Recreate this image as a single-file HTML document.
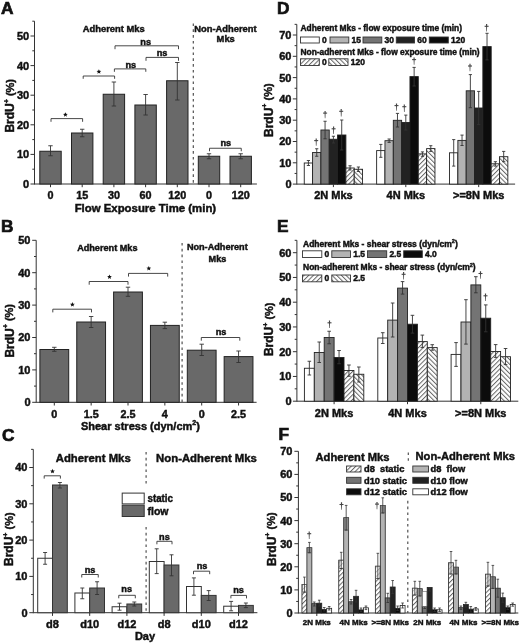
<!DOCTYPE html>
<html><head><meta charset="utf-8"><style>
html,body{margin:0;padding:0;background:#fff;}
svg{display:block;filter:grayscale(1) blur(0.35px);}
text{font-family:"Liberation Sans",sans-serif;font-weight:bold;stroke:#111;stroke-width:0.45px;}
</style></head><body>
<svg width="520" height="644" viewBox="0 0 520 644">
<defs>
<pattern id="h1" patternUnits="userSpaceOnUse" width="3.3" height="10" patternTransform="rotate(45)"><rect width="3.3" height="10" fill="#fff"/><rect x="0" width="1.0" height="10" fill="#666"/></pattern>
<pattern id="h2" patternUnits="userSpaceOnUse" width="3.3" height="10" patternTransform="rotate(-45)"><rect width="3.3" height="10" fill="#fff"/><rect x="0" width="1.0" height="10" fill="#666"/></pattern>
</defs>
<rect width="520" height="644" fill="#fff"/>
<text x="1.00" y="13.73" font-size="17.3" text-anchor="start" fill="#111" style="stroke-width:0.7px">A</text>
<line x1="34.50" y1="21.20" x2="34.50" y2="184.50" stroke="#333" stroke-width="1" />
<line x1="30.50" y1="184.00" x2="34.50" y2="184.00" stroke="#333" stroke-width="1" />
<text x="29.20" y="187.96" font-size="11" text-anchor="end" fill="#111" >0</text>
<line x1="32.30" y1="169.20" x2="34.50" y2="169.20" stroke="#333" stroke-width="1" />
<line x1="30.50" y1="154.40" x2="34.50" y2="154.40" stroke="#333" stroke-width="1" />
<text x="29.20" y="158.36" font-size="11" text-anchor="end" fill="#111" >10</text>
<line x1="32.30" y1="139.60" x2="34.50" y2="139.60" stroke="#333" stroke-width="1" />
<line x1="30.50" y1="124.80" x2="34.50" y2="124.80" stroke="#333" stroke-width="1" />
<text x="29.20" y="128.76" font-size="11" text-anchor="end" fill="#111" >20</text>
<line x1="32.30" y1="110.00" x2="34.50" y2="110.00" stroke="#333" stroke-width="1" />
<line x1="30.50" y1="95.20" x2="34.50" y2="95.20" stroke="#333" stroke-width="1" />
<text x="29.20" y="99.16" font-size="11" text-anchor="end" fill="#111" >30</text>
<line x1="32.30" y1="80.40" x2="34.50" y2="80.40" stroke="#333" stroke-width="1" />
<line x1="30.50" y1="65.60" x2="34.50" y2="65.60" stroke="#333" stroke-width="1" />
<text x="29.20" y="69.56" font-size="11" text-anchor="end" fill="#111" >40</text>
<line x1="32.30" y1="50.80" x2="34.50" y2="50.80" stroke="#333" stroke-width="1" />
<line x1="30.50" y1="36.00" x2="34.50" y2="36.00" stroke="#333" stroke-width="1" />
<text x="29.20" y="39.96" font-size="11" text-anchor="end" fill="#111" >50</text>
<line x1="32.30" y1="21.20" x2="34.50" y2="21.20" stroke="#333" stroke-width="1" />
<line x1="34.50" y1="184.00" x2="256.90" y2="184.00" stroke="#333" stroke-width="1" />
<rect x="39.80" y="151.25" width="21.40" height="32.75" fill="#696969" stroke="#222" stroke-width="1"/>
<line x1="50.50" y1="145.75" x2="50.50" y2="155.75" stroke="#333" stroke-width="0.9" />
<line x1="48.30" y1="145.75" x2="52.70" y2="145.75" stroke="#333" stroke-width="0.9" />
<line x1="48.30" y1="155.75" x2="52.70" y2="155.75" stroke="#333" stroke-width="0.9" />
<line x1="50.50" y1="184.00" x2="50.50" y2="187.20" stroke="#333" stroke-width="1" />
<rect x="71.50" y="133.00" width="21.40" height="51.00" fill="#696969" stroke="#222" stroke-width="1"/>
<line x1="82.20" y1="129.25" x2="82.20" y2="136.75" stroke="#333" stroke-width="0.9" />
<line x1="80.00" y1="129.25" x2="84.40" y2="129.25" stroke="#333" stroke-width="0.9" />
<line x1="80.00" y1="136.75" x2="84.40" y2="136.75" stroke="#333" stroke-width="0.9" />
<line x1="82.20" y1="184.00" x2="82.20" y2="187.20" stroke="#333" stroke-width="1" />
<rect x="103.20" y="94.25" width="21.40" height="89.75" fill="#696969" stroke="#222" stroke-width="1"/>
<line x1="113.90" y1="82.00" x2="113.90" y2="106.00" stroke="#333" stroke-width="0.9" />
<line x1="111.70" y1="82.00" x2="116.10" y2="82.00" stroke="#333" stroke-width="0.9" />
<line x1="111.70" y1="106.00" x2="116.10" y2="106.00" stroke="#333" stroke-width="0.9" />
<line x1="113.90" y1="184.00" x2="113.90" y2="187.20" stroke="#333" stroke-width="1" />
<rect x="134.90" y="105.00" width="21.40" height="79.00" fill="#696969" stroke="#222" stroke-width="1"/>
<line x1="145.60" y1="94.50" x2="145.60" y2="115.00" stroke="#333" stroke-width="0.9" />
<line x1="143.40" y1="94.50" x2="147.80" y2="94.50" stroke="#333" stroke-width="0.9" />
<line x1="143.40" y1="115.00" x2="147.80" y2="115.00" stroke="#333" stroke-width="0.9" />
<line x1="145.60" y1="184.00" x2="145.60" y2="187.20" stroke="#333" stroke-width="1" />
<rect x="166.60" y="80.75" width="21.40" height="103.25" fill="#696969" stroke="#222" stroke-width="1"/>
<line x1="177.30" y1="62.50" x2="177.30" y2="100.00" stroke="#333" stroke-width="0.9" />
<line x1="175.10" y1="62.50" x2="179.50" y2="62.50" stroke="#333" stroke-width="0.9" />
<line x1="175.10" y1="100.00" x2="179.50" y2="100.00" stroke="#333" stroke-width="0.9" />
<line x1="177.30" y1="184.00" x2="177.30" y2="187.20" stroke="#333" stroke-width="1" />
<rect x="198.30" y="156.25" width="21.40" height="27.75" fill="#696969" stroke="#222" stroke-width="1"/>
<line x1="209.00" y1="153.75" x2="209.00" y2="158.75" stroke="#333" stroke-width="0.9" />
<line x1="206.80" y1="153.75" x2="211.20" y2="153.75" stroke="#333" stroke-width="0.9" />
<line x1="206.80" y1="158.75" x2="211.20" y2="158.75" stroke="#333" stroke-width="0.9" />
<line x1="209.00" y1="184.00" x2="209.00" y2="187.20" stroke="#333" stroke-width="1" />
<rect x="230.00" y="156.25" width="21.40" height="27.75" fill="#696969" stroke="#222" stroke-width="1"/>
<line x1="240.70" y1="153.75" x2="240.70" y2="158.75" stroke="#333" stroke-width="0.9" />
<line x1="238.50" y1="153.75" x2="242.90" y2="153.75" stroke="#333" stroke-width="0.9" />
<line x1="238.50" y1="158.75" x2="242.90" y2="158.75" stroke="#333" stroke-width="0.9" />
<line x1="240.70" y1="184.00" x2="240.70" y2="187.20" stroke="#333" stroke-width="1" />
<text x="50.50" y="199.19" font-size="10.8" text-anchor="middle" fill="#111" >0</text>
<text x="82.20" y="199.19" font-size="10.8" text-anchor="middle" fill="#111" >15</text>
<text x="113.90" y="199.19" font-size="10.8" text-anchor="middle" fill="#111" >30</text>
<text x="145.60" y="199.19" font-size="10.8" text-anchor="middle" fill="#111" >60</text>
<text x="177.30" y="199.19" font-size="10.8" text-anchor="middle" fill="#111" >120</text>
<text x="209.00" y="199.19" font-size="10.8" text-anchor="middle" fill="#111" >0</text>
<text x="240.70" y="199.19" font-size="10.8" text-anchor="middle" fill="#111" >120</text>
<text x="145.40" y="211.76" font-size="11" text-anchor="middle" textLength="141.50" lengthAdjust="spacingAndGlyphs" fill="#111" >Flow Exposure Time (min)</text>
<line x1="193.30" y1="23.50" x2="193.30" y2="184.00" stroke="#4a4a4a" stroke-width="1.15" stroke-dasharray="2.6,3.2"/>
<text x="113.70" y="31.98" font-size="9.4" text-anchor="middle" fill="#111" >Adherent Mks</text>
<text x="225.40" y="31.87" font-size="9.35" text-anchor="middle" fill="#111" >Non-Adherent</text>
<text x="225.70" y="42.37" font-size="9.35" text-anchor="middle" fill="#111" >Mks</text>
<text transform="translate(14.30,132.60) rotate(-90)" x="0" y="0" font-size="12" text-anchor="start" fill="#111">BrdU<tspan font-size="7" dy="-5.6">+</tspan><tspan font-size="11" dy="4.9"> (%)</tspan></text>
<path d="M51.00,121.80 L51.00,118.60 L82.60,118.60 L82.60,121.80" stroke="#333" stroke-width="0.9" fill="none" />
<polygon points="65.40,112.20 66.06,113.79 67.78,113.93 66.47,115.05 66.87,116.72 65.40,115.83 63.93,116.72 64.33,115.05 63.02,113.93 64.74,113.79" fill="#111"/>
<path d="M83.20,78.80 L83.20,76.00 L114.60,76.00 L114.60,78.80" stroke="#333" stroke-width="0.9" fill="none" />
<polygon points="98.90,69.20 99.56,70.79 101.28,70.93 99.97,72.05 100.37,73.72 98.90,72.83 97.43,73.72 97.83,72.05 96.52,70.93 98.24,70.79" fill="#111"/>
<path d="M114.40,71.80 L114.40,68.90 L145.80,68.90 L145.80,71.80" stroke="#333" stroke-width="0.9" fill="none" />
<text x="130.80" y="67.59" font-size="9.2" text-anchor="middle" fill="#111" >ns</text>
<path d="M115.00,49.20 L115.00,45.80 L178.50,45.80 L178.50,49.20" stroke="#333" stroke-width="0.9" fill="none" />
<text x="145.70" y="44.69" font-size="9.2" text-anchor="middle" fill="#111" >ns</text>
<path d="M146.00,60.80 L146.00,57.40 L178.50,57.40 L178.50,60.80" stroke="#333" stroke-width="0.9" fill="none" />
<text x="162.10" y="56.29" font-size="9.2" text-anchor="middle" fill="#111" >ns</text>
<path d="M209.50,151.25 L209.50,148.25 L241.25,148.25 L241.25,151.25" stroke="#333" stroke-width="0.9" fill="none" />
<text x="225.75" y="145.59" font-size="9.2" text-anchor="middle" fill="#111" >ns</text>
<text x="0.90" y="232.33" font-size="17.3" text-anchor="start" fill="#111" style="stroke-width:0.7px">B</text>
<line x1="36.20" y1="240.30" x2="36.20" y2="402.80" stroke="#333" stroke-width="1" />
<line x1="32.20" y1="402.30" x2="36.20" y2="402.30" stroke="#333" stroke-width="1" />
<text x="30.50" y="406.26" font-size="11" text-anchor="end" fill="#111" >0</text>
<line x1="34.00" y1="386.10" x2="36.20" y2="386.10" stroke="#333" stroke-width="1" />
<line x1="32.20" y1="369.90" x2="36.20" y2="369.90" stroke="#333" stroke-width="1" />
<text x="30.50" y="373.86" font-size="11" text-anchor="end" fill="#111" >10</text>
<line x1="34.00" y1="353.70" x2="36.20" y2="353.70" stroke="#333" stroke-width="1" />
<line x1="32.20" y1="337.50" x2="36.20" y2="337.50" stroke="#333" stroke-width="1" />
<text x="30.50" y="341.46" font-size="11" text-anchor="end" fill="#111" >20</text>
<line x1="34.00" y1="321.30" x2="36.20" y2="321.30" stroke="#333" stroke-width="1" />
<line x1="32.20" y1="305.10" x2="36.20" y2="305.10" stroke="#333" stroke-width="1" />
<text x="30.50" y="309.06" font-size="11" text-anchor="end" fill="#111" >30</text>
<line x1="34.00" y1="288.90" x2="36.20" y2="288.90" stroke="#333" stroke-width="1" />
<line x1="32.20" y1="272.70" x2="36.20" y2="272.70" stroke="#333" stroke-width="1" />
<text x="30.50" y="276.66" font-size="11" text-anchor="end" fill="#111" >40</text>
<line x1="34.00" y1="256.50" x2="36.20" y2="256.50" stroke="#333" stroke-width="1" />
<line x1="32.20" y1="240.30" x2="36.20" y2="240.30" stroke="#333" stroke-width="1" />
<text x="30.50" y="244.26" font-size="11" text-anchor="end" fill="#111" >50</text>
<line x1="36.20" y1="402.30" x2="256.60" y2="402.30" stroke="#333" stroke-width="1" />
<rect x="39.90" y="349.50" width="28.80" height="52.80" fill="#696969" stroke="#222" stroke-width="1"/>
<line x1="54.30" y1="347.30" x2="54.30" y2="351.30" stroke="#333" stroke-width="0.9" />
<line x1="52.10" y1="347.30" x2="56.50" y2="347.30" stroke="#333" stroke-width="0.9" />
<line x1="52.10" y1="351.30" x2="56.50" y2="351.30" stroke="#333" stroke-width="0.9" />
<line x1="54.30" y1="402.30" x2="54.30" y2="405.50" stroke="#333" stroke-width="1" />
<rect x="76.75" y="322.00" width="28.80" height="80.30" fill="#696969" stroke="#222" stroke-width="1"/>
<line x1="91.15" y1="316.50" x2="91.15" y2="327.50" stroke="#333" stroke-width="0.9" />
<line x1="88.95" y1="316.50" x2="93.35" y2="316.50" stroke="#333" stroke-width="0.9" />
<line x1="88.95" y1="327.50" x2="93.35" y2="327.50" stroke="#333" stroke-width="0.9" />
<line x1="91.15" y1="402.30" x2="91.15" y2="405.50" stroke="#333" stroke-width="1" />
<rect x="113.60" y="292.00" width="28.80" height="110.30" fill="#696969" stroke="#222" stroke-width="1"/>
<line x1="128.00" y1="287.20" x2="128.00" y2="296.30" stroke="#333" stroke-width="0.9" />
<line x1="125.80" y1="287.20" x2="130.20" y2="287.20" stroke="#333" stroke-width="0.9" />
<line x1="125.80" y1="296.30" x2="130.20" y2="296.30" stroke="#333" stroke-width="0.9" />
<line x1="128.00" y1="402.30" x2="128.00" y2="405.50" stroke="#333" stroke-width="1" />
<rect x="150.45" y="325.40" width="28.80" height="76.90" fill="#696969" stroke="#222" stroke-width="1"/>
<line x1="164.85" y1="322.20" x2="164.85" y2="328.60" stroke="#333" stroke-width="0.9" />
<line x1="162.65" y1="322.20" x2="167.05" y2="322.20" stroke="#333" stroke-width="0.9" />
<line x1="162.65" y1="328.60" x2="167.05" y2="328.60" stroke="#333" stroke-width="0.9" />
<line x1="164.85" y1="402.30" x2="164.85" y2="405.50" stroke="#333" stroke-width="1" />
<rect x="187.30" y="350.20" width="28.80" height="52.10" fill="#696969" stroke="#222" stroke-width="1"/>
<line x1="201.70" y1="344.20" x2="201.70" y2="355.50" stroke="#333" stroke-width="0.9" />
<line x1="199.50" y1="344.20" x2="203.90" y2="344.20" stroke="#333" stroke-width="0.9" />
<line x1="199.50" y1="355.50" x2="203.90" y2="355.50" stroke="#333" stroke-width="0.9" />
<line x1="201.70" y1="402.30" x2="201.70" y2="405.50" stroke="#333" stroke-width="1" />
<rect x="224.15" y="356.60" width="28.80" height="45.70" fill="#696969" stroke="#222" stroke-width="1"/>
<line x1="238.55" y1="351.00" x2="238.55" y2="362.50" stroke="#333" stroke-width="0.9" />
<line x1="236.35" y1="351.00" x2="240.75" y2="351.00" stroke="#333" stroke-width="0.9" />
<line x1="236.35" y1="362.50" x2="240.75" y2="362.50" stroke="#333" stroke-width="0.9" />
<line x1="238.55" y1="402.30" x2="238.55" y2="405.50" stroke="#333" stroke-width="1" />
<text x="54.30" y="417.89" font-size="10.8" text-anchor="middle" fill="#111" >0</text>
<text x="91.15" y="417.89" font-size="10.8" text-anchor="middle" fill="#111" >1.5</text>
<text x="128.00" y="417.89" font-size="10.8" text-anchor="middle" fill="#111" >2.5</text>
<text x="164.85" y="417.89" font-size="10.8" text-anchor="middle" fill="#111" >4</text>
<text x="201.70" y="417.89" font-size="10.8" text-anchor="middle" fill="#111" >0</text>
<text x="238.55" y="417.89" font-size="10.8" text-anchor="middle" fill="#111" >2.5</text>
<text x="80.90" y="429.56" font-size="11" text-anchor="start" textLength="119.00" lengthAdjust="spacingAndGlyphs" fill="#111" >Shear stress (dyn/cm<tspan font-size="7" dy="-4.6">2</tspan><tspan dy="4.6">)</tspan></text>
<line x1="182.10" y1="243.00" x2="182.10" y2="402.00" stroke="#4a4a4a" stroke-width="1.15" stroke-dasharray="2.6,3.2"/>
<text x="107.30" y="250.59" font-size="9.15" text-anchor="middle" fill="#111" >Adherent Mks</text>
<text x="217.30" y="250.39" font-size="9.15" text-anchor="middle" fill="#111" >Non-Adherent</text>
<text x="217.50" y="262.19" font-size="9.15" text-anchor="middle" fill="#111" >Mks</text>
<text transform="translate(13.60,357.60) rotate(-90)" x="0" y="0" font-size="12" text-anchor="start" fill="#111">BrdU<tspan font-size="7" dy="-5.6">+</tspan><tspan font-size="11" dy="4.9"> (%)</tspan></text>
<path d="M52.80,312.40 L52.80,309.20 L91.50,309.20 L91.50,312.40" stroke="#333" stroke-width="0.9" fill="none" />
<polygon points="72.40,302.10 73.06,303.69 74.78,303.83 73.47,304.95 73.87,306.62 72.40,305.73 70.93,306.62 71.33,304.95 70.02,303.83 71.74,303.69" fill="#111"/>
<path d="M89.20,284.70 L89.20,281.50 L128.00,281.50 L128.00,284.70" stroke="#333" stroke-width="0.9" fill="none" />
<polygon points="109.50,274.40 110.16,275.99 111.88,276.13 110.57,277.25 110.97,278.92 109.50,278.03 108.03,278.92 108.43,277.25 107.12,276.13 108.84,275.99" fill="#111"/>
<path d="M128.50,276.60 L128.50,273.40 L167.70,273.40 L167.70,276.60" stroke="#333" stroke-width="0.9" fill="none" />
<polygon points="148.80,265.90 149.46,267.49 151.18,267.63 149.87,268.75 150.27,270.42 148.80,269.53 147.33,270.42 147.73,268.75 146.42,267.63 148.14,267.49" fill="#111"/>
<path d="M201.30,340.70 L201.30,337.50 L239.80,337.50 L239.80,340.70" stroke="#333" stroke-width="0.9" fill="none" />
<text x="221.00" y="335.19" font-size="9.2" text-anchor="middle" fill="#111" >ns</text>
<text x="2.00" y="440.63" font-size="17.3" text-anchor="start" fill="#111" style="stroke-width:0.7px">C</text>
<line x1="33.30" y1="449.35" x2="33.30" y2="613.20" stroke="#333" stroke-width="1" />
<line x1="29.30" y1="612.70" x2="33.30" y2="612.70" stroke="#333" stroke-width="1" />
<text x="27.50" y="616.66" font-size="11" text-anchor="end" fill="#111" >0</text>
<line x1="31.10" y1="594.55" x2="33.30" y2="594.55" stroke="#333" stroke-width="1" />
<line x1="29.30" y1="576.40" x2="33.30" y2="576.40" stroke="#333" stroke-width="1" />
<text x="27.50" y="580.36" font-size="11" text-anchor="end" fill="#111" >10</text>
<line x1="31.10" y1="558.25" x2="33.30" y2="558.25" stroke="#333" stroke-width="1" />
<line x1="29.30" y1="540.10" x2="33.30" y2="540.10" stroke="#333" stroke-width="1" />
<text x="27.50" y="544.06" font-size="11" text-anchor="end" fill="#111" >20</text>
<line x1="31.10" y1="521.95" x2="33.30" y2="521.95" stroke="#333" stroke-width="1" />
<line x1="29.30" y1="503.80" x2="33.30" y2="503.80" stroke="#333" stroke-width="1" />
<text x="27.50" y="507.76" font-size="11" text-anchor="end" fill="#111" >30</text>
<line x1="31.10" y1="485.65" x2="33.30" y2="485.65" stroke="#333" stroke-width="1" />
<line x1="29.30" y1="467.50" x2="33.30" y2="467.50" stroke="#333" stroke-width="1" />
<text x="27.50" y="471.46" font-size="11" text-anchor="end" fill="#111" >40</text>
<line x1="31.10" y1="449.35" x2="33.30" y2="449.35" stroke="#333" stroke-width="1" />
<line x1="33.30" y1="612.70" x2="257.40" y2="612.70" stroke="#333" stroke-width="1" />
<rect x="37.70" y="558.25" width="14.80" height="54.45" fill="#ffffff" stroke="#333" stroke-width="1"/>
<rect x="52.50" y="485.00" width="14.80" height="127.70" fill="#696969" stroke="#333" stroke-width="1"/>
<line x1="45.10" y1="552.50" x2="45.10" y2="564.25" stroke="#333" stroke-width="0.9" />
<line x1="43.10" y1="552.50" x2="47.10" y2="552.50" stroke="#333" stroke-width="0.9" />
<line x1="43.10" y1="564.25" x2="47.10" y2="564.25" stroke="#333" stroke-width="0.9" />
<line x1="59.90" y1="482.50" x2="59.90" y2="488.00" stroke="#333" stroke-width="0.9" />
<line x1="57.90" y1="482.50" x2="61.90" y2="482.50" stroke="#333" stroke-width="0.9" />
<line x1="57.90" y1="488.00" x2="61.90" y2="488.00" stroke="#333" stroke-width="0.9" />
<line x1="52.50" y1="612.70" x2="52.50" y2="615.90" stroke="#333" stroke-width="1" />
<rect x="74.90" y="593.00" width="14.80" height="19.70" fill="#ffffff" stroke="#333" stroke-width="1"/>
<rect x="89.70" y="588.00" width="14.80" height="24.70" fill="#696969" stroke="#333" stroke-width="1"/>
<line x1="82.30" y1="588.00" x2="82.30" y2="598.75" stroke="#333" stroke-width="0.9" />
<line x1="80.30" y1="588.00" x2="84.30" y2="588.00" stroke="#333" stroke-width="0.9" />
<line x1="80.30" y1="598.75" x2="84.30" y2="598.75" stroke="#333" stroke-width="0.9" />
<line x1="97.10" y1="581.75" x2="97.10" y2="594.50" stroke="#333" stroke-width="0.9" />
<line x1="95.10" y1="581.75" x2="99.10" y2="581.75" stroke="#333" stroke-width="0.9" />
<line x1="95.10" y1="594.50" x2="99.10" y2="594.50" stroke="#333" stroke-width="0.9" />
<line x1="89.70" y1="612.70" x2="89.70" y2="615.90" stroke="#333" stroke-width="1" />
<rect x="112.10" y="606.75" width="14.80" height="5.95" fill="#ffffff" stroke="#333" stroke-width="1"/>
<rect x="126.90" y="604.00" width="14.80" height="8.70" fill="#696969" stroke="#333" stroke-width="1"/>
<line x1="119.50" y1="603.20" x2="119.50" y2="610.20" stroke="#333" stroke-width="0.9" />
<line x1="117.50" y1="603.20" x2="121.50" y2="603.20" stroke="#333" stroke-width="0.9" />
<line x1="117.50" y1="610.20" x2="121.50" y2="610.20" stroke="#333" stroke-width="0.9" />
<line x1="134.30" y1="602.00" x2="134.30" y2="606.00" stroke="#333" stroke-width="0.9" />
<line x1="132.30" y1="602.00" x2="136.30" y2="602.00" stroke="#333" stroke-width="0.9" />
<line x1="132.30" y1="606.00" x2="136.30" y2="606.00" stroke="#333" stroke-width="0.9" />
<line x1="126.90" y1="612.70" x2="126.90" y2="615.90" stroke="#333" stroke-width="1" />
<rect x="149.30" y="561.50" width="14.80" height="51.20" fill="#ffffff" stroke="#333" stroke-width="1"/>
<rect x="164.10" y="565.00" width="14.80" height="47.70" fill="#696969" stroke="#333" stroke-width="1"/>
<line x1="156.70" y1="548.80" x2="156.70" y2="573.60" stroke="#333" stroke-width="0.9" />
<line x1="154.70" y1="548.80" x2="158.70" y2="548.80" stroke="#333" stroke-width="0.9" />
<line x1="154.70" y1="573.60" x2="158.70" y2="573.60" stroke="#333" stroke-width="0.9" />
<line x1="171.50" y1="554.80" x2="171.50" y2="575.80" stroke="#333" stroke-width="0.9" />
<line x1="169.50" y1="554.80" x2="173.50" y2="554.80" stroke="#333" stroke-width="0.9" />
<line x1="169.50" y1="575.80" x2="173.50" y2="575.80" stroke="#333" stroke-width="0.9" />
<line x1="164.10" y1="612.70" x2="164.10" y2="615.90" stroke="#333" stroke-width="1" />
<rect x="186.50" y="586.50" width="14.80" height="26.20" fill="#ffffff" stroke="#333" stroke-width="1"/>
<rect x="201.30" y="595.40" width="14.80" height="17.30" fill="#696969" stroke="#333" stroke-width="1"/>
<line x1="193.90" y1="577.90" x2="193.90" y2="595.20" stroke="#333" stroke-width="0.9" />
<line x1="191.90" y1="577.90" x2="195.90" y2="577.90" stroke="#333" stroke-width="0.9" />
<line x1="191.90" y1="595.20" x2="195.90" y2="595.20" stroke="#333" stroke-width="0.9" />
<line x1="208.70" y1="590.60" x2="208.70" y2="600.50" stroke="#333" stroke-width="0.9" />
<line x1="206.70" y1="590.60" x2="210.70" y2="590.60" stroke="#333" stroke-width="0.9" />
<line x1="206.70" y1="600.50" x2="210.70" y2="600.50" stroke="#333" stroke-width="0.9" />
<line x1="201.30" y1="612.70" x2="201.30" y2="615.90" stroke="#333" stroke-width="1" />
<rect x="223.70" y="606.20" width="14.80" height="6.50" fill="#ffffff" stroke="#333" stroke-width="1"/>
<rect x="238.50" y="605.40" width="14.80" height="7.30" fill="#696969" stroke="#333" stroke-width="1"/>
<line x1="231.10" y1="601.40" x2="231.10" y2="610.80" stroke="#333" stroke-width="0.9" />
<line x1="229.10" y1="601.40" x2="233.10" y2="601.40" stroke="#333" stroke-width="0.9" />
<line x1="229.10" y1="610.80" x2="233.10" y2="610.80" stroke="#333" stroke-width="0.9" />
<line x1="245.90" y1="603.00" x2="245.90" y2="607.60" stroke="#333" stroke-width="0.9" />
<line x1="243.90" y1="603.00" x2="247.90" y2="603.00" stroke="#333" stroke-width="0.9" />
<line x1="243.90" y1="607.60" x2="247.90" y2="607.60" stroke="#333" stroke-width="0.9" />
<line x1="238.50" y1="612.70" x2="238.50" y2="615.90" stroke="#333" stroke-width="1" />
<text x="52.50" y="627.66" font-size="11" text-anchor="middle" fill="#111" >d8</text>
<text x="89.70" y="627.66" font-size="11" text-anchor="middle" fill="#111" >d10</text>
<text x="126.90" y="627.66" font-size="11" text-anchor="middle" fill="#111" >d12</text>
<text x="164.10" y="627.66" font-size="11" text-anchor="middle" fill="#111" >d8</text>
<text x="201.30" y="627.66" font-size="11" text-anchor="middle" fill="#111" >d10</text>
<text x="238.50" y="627.66" font-size="11" text-anchor="middle" fill="#111" >d12</text>
<text x="145.00" y="640.36" font-size="11" text-anchor="middle" textLength="20.20" lengthAdjust="spacingAndGlyphs" fill="#111" >Day</text>
<line x1="146.10" y1="452.00" x2="146.10" y2="486.00" stroke="#4a4a4a" stroke-width="1.15" stroke-dasharray="2.6,3.2"/>
<line x1="146.10" y1="527.00" x2="146.10" y2="612.70" stroke="#4a4a4a" stroke-width="1.15" stroke-dasharray="2.6,3.2"/>
<text x="93.20" y="462.29" font-size="11.35" text-anchor="middle" fill="#111" >Adherent Mks</text>
<text x="206.50" y="461.89" font-size="11.35" text-anchor="middle" fill="#111" >Non-Adherent Mks</text>
<rect x="122.20" y="493.10" width="22.00" height="10.80" fill="#ffffff" stroke="#333" stroke-width="1"/>
<rect x="122.20" y="505.20" width="22.00" height="11.30" fill="#696969" stroke="#333" stroke-width="1"/>
<text x="147.50" y="502.28" font-size="10.5" text-anchor="start" textLength="25.50" lengthAdjust="spacingAndGlyphs" fill="#111" >static</text>
<text x="147.50" y="514.98" font-size="10.5" text-anchor="start" fill="#111" >flow</text>
<text transform="translate(13.20,566.00) rotate(-90)" x="0" y="0" font-size="12" text-anchor="start" fill="#111">BrdU<tspan font-size="7" dy="-5.6">+</tspan><tspan font-size="11" dy="4.9"> (%)</tspan></text>
<path d="M44.20,478.60 L44.20,475.80 L60.40,475.80 L60.40,478.60" stroke="#333" stroke-width="0.9" fill="none" />
<polygon points="52.50,468.80 53.16,470.39 54.88,470.53 53.57,471.65 53.97,473.32 52.50,472.43 51.03,473.32 51.43,471.65 50.12,470.53 51.84,470.39" fill="#111"/>
<path d="M81.75,577.50 L81.75,574.50 L98.25,574.50 L98.25,577.50" stroke="#333" stroke-width="0.9" fill="none" />
<text x="90.00" y="572.59" font-size="9.2" text-anchor="middle" fill="#111" >ns</text>
<path d="M118.75,598.30 L118.75,595.30 L135.30,595.30 L135.30,598.30" stroke="#333" stroke-width="0.9" fill="none" />
<text x="126.70" y="592.29" font-size="9.2" text-anchor="middle" fill="#111" >ns</text>
<path d="M156.90,544.30 L156.90,541.30 L172.00,541.30 L172.00,544.30" stroke="#333" stroke-width="0.9" fill="none" />
<text x="164.40" y="539.79" font-size="9.2" text-anchor="middle" fill="#111" >ns</text>
<path d="M193.50,574.20 L193.50,571.20 L209.70,571.20 L209.70,574.20" stroke="#333" stroke-width="0.9" fill="none" />
<text x="202.10" y="568.59" font-size="9.2" text-anchor="middle" fill="#111" >ns</text>
<path d="M230.90,598.40 L230.90,595.40 L246.50,595.40 L246.50,598.40" stroke="#333" stroke-width="0.9" fill="none" />
<text x="238.50" y="592.89" font-size="9.2" text-anchor="middle" fill="#111" >ns</text>
<text x="277.00" y="14.28" font-size="17.3" text-anchor="start" fill="#111" style="stroke-width:0.7px">D</text>
<line x1="296.80" y1="24.35" x2="296.80" y2="184.60" stroke="#333" stroke-width="1" />
<line x1="292.80" y1="184.10" x2="296.80" y2="184.10" stroke="#333" stroke-width="1" />
<text x="291.50" y="188.06" font-size="11" text-anchor="end" fill="#111" >0</text>
<line x1="294.60" y1="173.45" x2="296.80" y2="173.45" stroke="#333" stroke-width="1" />
<line x1="292.80" y1="162.80" x2="296.80" y2="162.80" stroke="#333" stroke-width="1" />
<text x="291.50" y="166.76" font-size="11" text-anchor="end" fill="#111" >10</text>
<line x1="294.60" y1="152.15" x2="296.80" y2="152.15" stroke="#333" stroke-width="1" />
<line x1="292.80" y1="141.50" x2="296.80" y2="141.50" stroke="#333" stroke-width="1" />
<text x="291.50" y="145.46" font-size="11" text-anchor="end" fill="#111" >20</text>
<line x1="294.60" y1="130.85" x2="296.80" y2="130.85" stroke="#333" stroke-width="1" />
<line x1="292.80" y1="120.20" x2="296.80" y2="120.20" stroke="#333" stroke-width="1" />
<text x="291.50" y="124.16" font-size="11" text-anchor="end" fill="#111" >30</text>
<line x1="294.60" y1="109.55" x2="296.80" y2="109.55" stroke="#333" stroke-width="1" />
<line x1="292.80" y1="98.90" x2="296.80" y2="98.90" stroke="#333" stroke-width="1" />
<text x="291.50" y="102.86" font-size="11" text-anchor="end" fill="#111" >40</text>
<line x1="294.60" y1="88.25" x2="296.80" y2="88.25" stroke="#333" stroke-width="1" />
<line x1="292.80" y1="77.60" x2="296.80" y2="77.60" stroke="#333" stroke-width="1" />
<text x="291.50" y="81.56" font-size="11" text-anchor="end" fill="#111" >50</text>
<line x1="294.60" y1="66.95" x2="296.80" y2="66.95" stroke="#333" stroke-width="1" />
<line x1="292.80" y1="56.30" x2="296.80" y2="56.30" stroke="#333" stroke-width="1" />
<text x="291.50" y="60.26" font-size="11" text-anchor="end" fill="#111" >60</text>
<line x1="294.60" y1="45.65" x2="296.80" y2="45.65" stroke="#333" stroke-width="1" />
<line x1="292.80" y1="35.00" x2="296.80" y2="35.00" stroke="#333" stroke-width="1" />
<text x="291.50" y="38.96" font-size="11" text-anchor="end" fill="#111" >70</text>
<line x1="294.60" y1="24.35" x2="296.80" y2="24.35" stroke="#333" stroke-width="1" />
<line x1="296.80" y1="184.10" x2="515.10" y2="184.10" stroke="#333" stroke-width="1" />
<rect x="304.25" y="163.00" width="8.33" height="21.10" fill="#ffffff" stroke="#222" stroke-width="0.9"/>
<rect x="312.57" y="152.50" width="8.33" height="31.60" fill="#b3b3b3" stroke="#222" stroke-width="0.9"/>
<rect x="320.91" y="130.00" width="8.33" height="54.10" fill="#747474" stroke="#222" stroke-width="0.9"/>
<rect x="329.24" y="139.25" width="8.33" height="44.85" fill="#222222" stroke="#222" stroke-width="0.9"/>
<rect x="337.56" y="135.00" width="8.33" height="49.10" fill="#0c0c0c" stroke="#222" stroke-width="0.9"/>
<rect x="345.89" y="168.00" width="8.33" height="16.10" fill="url(#h1)" stroke="#222" stroke-width="0.9"/>
<rect x="354.23" y="169.25" width="8.33" height="14.85" fill="url(#h2)" stroke="#222" stroke-width="0.9"/>
<line x1="308.41" y1="160.50" x2="308.41" y2="165.50" stroke="#333" stroke-width="0.9" />
<line x1="306.81" y1="160.50" x2="310.01" y2="160.50" stroke="#333" stroke-width="0.9" />
<line x1="306.81" y1="165.50" x2="310.01" y2="165.50" stroke="#333" stroke-width="0.9" />
<line x1="316.74" y1="148.75" x2="316.74" y2="156.25" stroke="#333" stroke-width="0.9" />
<line x1="315.14" y1="148.75" x2="318.34" y2="148.75" stroke="#333" stroke-width="0.9" />
<line x1="315.14" y1="156.25" x2="318.34" y2="156.25" stroke="#333" stroke-width="0.9" />
<line x1="325.07" y1="121.25" x2="325.07" y2="138.75" stroke="#333" stroke-width="0.9" />
<line x1="323.47" y1="121.25" x2="326.67" y2="121.25" stroke="#333" stroke-width="0.9" />
<line x1="323.47" y1="138.75" x2="326.67" y2="138.75" stroke="#333" stroke-width="0.9" />
<line x1="333.40" y1="136.25" x2="333.40" y2="143.00" stroke="#333" stroke-width="0.9" />
<line x1="331.80" y1="136.25" x2="335.00" y2="136.25" stroke="#333" stroke-width="0.9" />
<line x1="331.80" y1="143.00" x2="335.00" y2="143.00" stroke="#333" stroke-width="0.9" />
<line x1="341.73" y1="120.00" x2="341.73" y2="150.00" stroke="#333" stroke-width="0.9" />
<line x1="340.13" y1="120.00" x2="343.33" y2="120.00" stroke="#333" stroke-width="0.9" />
<line x1="340.13" y1="150.00" x2="343.33" y2="150.00" stroke="#333" stroke-width="0.9" />
<line x1="350.06" y1="165.75" x2="350.06" y2="170.00" stroke="#333" stroke-width="0.9" />
<line x1="348.46" y1="165.75" x2="351.66" y2="165.75" stroke="#333" stroke-width="0.9" />
<line x1="348.46" y1="170.00" x2="351.66" y2="170.00" stroke="#333" stroke-width="0.9" />
<line x1="358.39" y1="167.00" x2="358.39" y2="171.50" stroke="#333" stroke-width="0.9" />
<line x1="356.79" y1="167.00" x2="359.99" y2="167.00" stroke="#333" stroke-width="0.9" />
<line x1="356.79" y1="171.50" x2="359.99" y2="171.50" stroke="#333" stroke-width="0.9" />
<line x1="333.40" y1="184.10" x2="333.40" y2="187.10" stroke="#333" stroke-width="1" />
<rect x="376.64" y="150.60" width="8.33" height="33.50" fill="#ffffff" stroke="#222" stroke-width="0.9"/>
<rect x="384.97" y="140.70" width="8.33" height="43.40" fill="#b3b3b3" stroke="#222" stroke-width="0.9"/>
<rect x="393.31" y="120.30" width="8.33" height="63.80" fill="#747474" stroke="#222" stroke-width="0.9"/>
<rect x="401.63" y="122.50" width="8.33" height="61.60" fill="#222222" stroke="#222" stroke-width="0.9"/>
<rect x="409.96" y="76.60" width="8.33" height="107.50" fill="#0c0c0c" stroke="#222" stroke-width="0.9"/>
<rect x="418.29" y="153.90" width="8.33" height="30.20" fill="url(#h1)" stroke="#222" stroke-width="0.9"/>
<rect x="426.62" y="148.60" width="8.33" height="35.50" fill="url(#h2)" stroke="#222" stroke-width="0.9"/>
<line x1="380.81" y1="144.40" x2="380.81" y2="157.30" stroke="#333" stroke-width="0.9" />
<line x1="379.21" y1="144.40" x2="382.41" y2="144.40" stroke="#333" stroke-width="0.9" />
<line x1="379.21" y1="157.30" x2="382.41" y2="157.30" stroke="#333" stroke-width="0.9" />
<line x1="389.14" y1="139.00" x2="389.14" y2="142.40" stroke="#333" stroke-width="0.9" />
<line x1="387.54" y1="139.00" x2="390.74" y2="139.00" stroke="#333" stroke-width="0.9" />
<line x1="387.54" y1="142.40" x2="390.74" y2="142.40" stroke="#333" stroke-width="0.9" />
<line x1="397.47" y1="113.40" x2="397.47" y2="127.00" stroke="#333" stroke-width="0.9" />
<line x1="395.87" y1="113.40" x2="399.07" y2="113.40" stroke="#333" stroke-width="0.9" />
<line x1="395.87" y1="127.00" x2="399.07" y2="127.00" stroke="#333" stroke-width="0.9" />
<line x1="405.80" y1="115.10" x2="405.80" y2="130.00" stroke="#333" stroke-width="0.9" />
<line x1="404.20" y1="115.10" x2="407.40" y2="115.10" stroke="#333" stroke-width="0.9" />
<line x1="404.20" y1="130.00" x2="407.40" y2="130.00" stroke="#333" stroke-width="0.9" />
<line x1="414.13" y1="67.40" x2="414.13" y2="86.00" stroke="#333" stroke-width="0.9" />
<line x1="412.53" y1="67.40" x2="415.73" y2="67.40" stroke="#333" stroke-width="0.9" />
<line x1="412.53" y1="86.00" x2="415.73" y2="86.00" stroke="#333" stroke-width="0.9" />
<line x1="422.46" y1="151.90" x2="422.46" y2="156.30" stroke="#333" stroke-width="0.9" />
<line x1="420.86" y1="151.90" x2="424.06" y2="151.90" stroke="#333" stroke-width="0.9" />
<line x1="420.86" y1="156.30" x2="424.06" y2="156.30" stroke="#333" stroke-width="0.9" />
<line x1="430.79" y1="145.70" x2="430.79" y2="151.40" stroke="#333" stroke-width="0.9" />
<line x1="429.19" y1="145.70" x2="432.39" y2="145.70" stroke="#333" stroke-width="0.9" />
<line x1="429.19" y1="151.40" x2="432.39" y2="151.40" stroke="#333" stroke-width="0.9" />
<line x1="405.80" y1="184.10" x2="405.80" y2="187.10" stroke="#333" stroke-width="1" />
<rect x="449.54" y="152.80" width="8.33" height="31.30" fill="#ffffff" stroke="#222" stroke-width="0.9"/>
<rect x="457.87" y="140.40" width="8.33" height="43.70" fill="#b3b3b3" stroke="#222" stroke-width="0.9"/>
<rect x="466.20" y="90.80" width="8.33" height="93.30" fill="#747474" stroke="#222" stroke-width="0.9"/>
<rect x="474.53" y="108.00" width="8.33" height="76.10" fill="#222222" stroke="#222" stroke-width="0.9"/>
<rect x="482.86" y="46.60" width="8.33" height="137.50" fill="#0c0c0c" stroke="#222" stroke-width="0.9"/>
<rect x="491.19" y="163.80" width="8.33" height="20.30" fill="url(#h1)" stroke="#222" stroke-width="0.9"/>
<rect x="499.52" y="156.70" width="8.33" height="27.40" fill="url(#h2)" stroke="#222" stroke-width="0.9"/>
<line x1="453.71" y1="139.60" x2="453.71" y2="166.10" stroke="#333" stroke-width="0.9" />
<line x1="452.11" y1="139.60" x2="455.31" y2="139.60" stroke="#333" stroke-width="0.9" />
<line x1="452.11" y1="166.10" x2="455.31" y2="166.10" stroke="#333" stroke-width="0.9" />
<line x1="462.04" y1="135.10" x2="462.04" y2="145.50" stroke="#333" stroke-width="0.9" />
<line x1="460.44" y1="135.10" x2="463.64" y2="135.10" stroke="#333" stroke-width="0.9" />
<line x1="460.44" y1="145.50" x2="463.64" y2="145.50" stroke="#333" stroke-width="0.9" />
<line x1="470.37" y1="74.60" x2="470.37" y2="107.70" stroke="#333" stroke-width="0.9" />
<line x1="468.77" y1="74.60" x2="471.97" y2="74.60" stroke="#333" stroke-width="0.9" />
<line x1="468.77" y1="107.70" x2="471.97" y2="107.70" stroke="#333" stroke-width="0.9" />
<line x1="478.70" y1="91.40" x2="478.70" y2="124.60" stroke="#333" stroke-width="0.9" />
<line x1="477.10" y1="91.40" x2="480.30" y2="91.40" stroke="#333" stroke-width="0.9" />
<line x1="477.10" y1="124.60" x2="480.30" y2="124.60" stroke="#333" stroke-width="0.9" />
<line x1="487.03" y1="33.30" x2="487.03" y2="59.90" stroke="#333" stroke-width="0.9" />
<line x1="485.43" y1="33.30" x2="488.63" y2="33.30" stroke="#333" stroke-width="0.9" />
<line x1="485.43" y1="59.90" x2="488.63" y2="59.90" stroke="#333" stroke-width="0.9" />
<line x1="495.36" y1="161.70" x2="495.36" y2="166.10" stroke="#333" stroke-width="0.9" />
<line x1="493.76" y1="161.70" x2="496.96" y2="161.70" stroke="#333" stroke-width="0.9" />
<line x1="493.76" y1="166.10" x2="496.96" y2="166.10" stroke="#333" stroke-width="0.9" />
<line x1="503.69" y1="151.40" x2="503.69" y2="161.70" stroke="#333" stroke-width="0.9" />
<line x1="502.09" y1="151.40" x2="505.29" y2="151.40" stroke="#333" stroke-width="0.9" />
<line x1="502.09" y1="161.70" x2="505.29" y2="161.70" stroke="#333" stroke-width="0.9" />
<line x1="478.70" y1="184.10" x2="478.70" y2="187.10" stroke="#333" stroke-width="1" />
<text x="333.40" y="199.16" font-size="11" text-anchor="middle" fill="#111" >2N Mks</text>
<text x="405.80" y="199.16" font-size="11" text-anchor="middle" fill="#111" >4N Mks</text>
<text x="478.70" y="199.16" font-size="11" text-anchor="middle" fill="#111" >&gt;=8N Mks</text>
<path d="M315.60,138.40 L316.80,138.40 L316.50,145.80 L315.90,145.80 Z" fill="#444"/>
<line x1="314.20" y1="140.60" x2="318.20" y2="140.60" stroke="#444" stroke-width="1.1" />
<path d="M324.50,110.90 L325.70,110.90 L325.40,118.30 L324.80,118.30 Z" fill="#444"/>
<line x1="323.10" y1="113.10" x2="327.10" y2="113.10" stroke="#444" stroke-width="1.1" />
<path d="M333.00,126.60 L334.20,126.60 L333.90,134.00 L333.30,134.00 Z" fill="#444"/>
<line x1="331.60" y1="128.80" x2="335.60" y2="128.80" stroke="#444" stroke-width="1.1" />
<path d="M340.60,109.10 L341.80,109.10 L341.50,116.50 L340.90,116.50 Z" fill="#444"/>
<line x1="339.20" y1="111.30" x2="343.20" y2="111.30" stroke="#444" stroke-width="1.1" />
<path d="M395.90,103.40 L397.10,103.40 L396.80,110.80 L396.20,110.80 Z" fill="#444"/>
<line x1="394.50" y1="105.60" x2="398.50" y2="105.60" stroke="#444" stroke-width="1.1" />
<path d="M403.70,104.50 L404.90,104.50 L404.60,111.90 L404.00,111.90 Z" fill="#444"/>
<line x1="402.30" y1="106.70" x2="406.30" y2="106.70" stroke="#444" stroke-width="1.1" />
<path d="M413.50,57.40 L414.70,57.40 L414.40,64.80 L413.80,64.80 Z" fill="#444"/>
<line x1="412.10" y1="59.60" x2="416.10" y2="59.60" stroke="#444" stroke-width="1.1" />
<path d="M469.40,63.80 L470.60,63.80 L470.30,71.20 L469.70,71.20 Z" fill="#444"/>
<line x1="468.00" y1="66.00" x2="472.00" y2="66.00" stroke="#444" stroke-width="1.1" />
<path d="M486.00,24.10 L487.20,24.10 L486.90,31.50 L486.30,31.50 Z" fill="#444"/>
<line x1="484.60" y1="26.30" x2="488.60" y2="26.30" stroke="#444" stroke-width="1.1" />
<text x="300.50" y="31.42" font-size="8.4" text-anchor="start" fill="#111" >Adherent Mks - flow exposure time (min)</text>
<text x="300.50" y="55.22" font-size="8.4" text-anchor="start" fill="#111" >Non-adherent Mks - flow exposure time (min)</text>
<rect x="300.50" y="37.00" width="18.80" height="6.00" fill="#ffffff" stroke="#333" stroke-width="0.9"/>
<text x="322.10" y="43.06" font-size="8.5" text-anchor="start" fill="#111" >0</text>
<rect x="330.00" y="37.00" width="18.80" height="6.00" fill="#b3b3b3" stroke="#333" stroke-width="0.9"/>
<text x="351.60" y="43.06" font-size="8.5" text-anchor="start" fill="#111" >15</text>
<rect x="363.00" y="37.00" width="18.80" height="6.00" fill="#747474" stroke="#333" stroke-width="0.9"/>
<text x="384.60" y="43.06" font-size="8.5" text-anchor="start" fill="#111" >30</text>
<rect x="396.30" y="37.00" width="18.20" height="6.00" fill="#222222" stroke="#333" stroke-width="0.9"/>
<text x="417.30" y="43.06" font-size="8.5" text-anchor="start" fill="#111" >60</text>
<rect x="429.30" y="37.00" width="19.00" height="6.00" fill="#0c0c0c" stroke="#333" stroke-width="0.9"/>
<text x="451.10" y="43.06" font-size="8.5" text-anchor="start" fill="#111" >120</text>
<rect x="300.50" y="58.80" width="18.80" height="6.70" fill="url(#h1)" stroke="#333" stroke-width="0.9"/>
<text x="322.10" y="65.26" font-size="8.5" text-anchor="start" fill="#111" >0</text>
<rect x="328.80" y="58.80" width="19.20" height="6.70" fill="url(#h2)" stroke="#333" stroke-width="0.9"/>
<text x="350.80" y="65.26" font-size="8.5" text-anchor="start" fill="#111" >120</text>
<text transform="translate(272.80,137.00) rotate(-90)" x="0" y="0" font-size="12" text-anchor="start" fill="#111">BrdU<tspan font-size="7" dy="-5.6">+</tspan><tspan font-size="11" dy="4.9"> (%)</tspan></text>
<text x="277.00" y="232.48" font-size="17.3" text-anchor="start" fill="#111" style="stroke-width:0.7px">E</text>
<line x1="296.90" y1="240.32" x2="296.90" y2="401.70" stroke="#333" stroke-width="1" />
<line x1="292.90" y1="401.20" x2="296.90" y2="401.20" stroke="#333" stroke-width="1" />
<text x="291.50" y="405.16" font-size="11" text-anchor="end" fill="#111" >0</text>
<line x1="294.70" y1="388.82" x2="296.90" y2="388.82" stroke="#333" stroke-width="1" />
<line x1="292.90" y1="376.45" x2="296.90" y2="376.45" stroke="#333" stroke-width="1" />
<text x="291.50" y="380.41" font-size="11" text-anchor="end" fill="#111" >10</text>
<line x1="294.70" y1="364.07" x2="296.90" y2="364.07" stroke="#333" stroke-width="1" />
<line x1="292.90" y1="351.70" x2="296.90" y2="351.70" stroke="#333" stroke-width="1" />
<text x="291.50" y="355.66" font-size="11" text-anchor="end" fill="#111" >20</text>
<line x1="294.70" y1="339.32" x2="296.90" y2="339.32" stroke="#333" stroke-width="1" />
<line x1="292.90" y1="326.95" x2="296.90" y2="326.95" stroke="#333" stroke-width="1" />
<text x="291.50" y="330.91" font-size="11" text-anchor="end" fill="#111" >30</text>
<line x1="294.70" y1="314.57" x2="296.90" y2="314.57" stroke="#333" stroke-width="1" />
<line x1="292.90" y1="302.20" x2="296.90" y2="302.20" stroke="#333" stroke-width="1" />
<text x="291.50" y="306.16" font-size="11" text-anchor="end" fill="#111" >40</text>
<line x1="294.70" y1="289.82" x2="296.90" y2="289.82" stroke="#333" stroke-width="1" />
<line x1="292.90" y1="277.45" x2="296.90" y2="277.45" stroke="#333" stroke-width="1" />
<text x="291.50" y="281.41" font-size="11" text-anchor="end" fill="#111" >50</text>
<line x1="294.70" y1="265.07" x2="296.90" y2="265.07" stroke="#333" stroke-width="1" />
<line x1="292.90" y1="252.70" x2="296.90" y2="252.70" stroke="#333" stroke-width="1" />
<text x="291.50" y="256.66" font-size="11" text-anchor="end" fill="#111" >60</text>
<line x1="294.70" y1="240.32" x2="296.90" y2="240.32" stroke="#333" stroke-width="1" />
<line x1="296.90" y1="401.20" x2="518.30" y2="401.20" stroke="#333" stroke-width="1" />
<rect x="304.40" y="368.25" width="9.90" height="32.95" fill="#ffffff" stroke="#222" stroke-width="0.9"/>
<rect x="314.30" y="352.50" width="9.90" height="48.70" fill="#b3b3b3" stroke="#222" stroke-width="0.9"/>
<rect x="324.20" y="337.50" width="9.90" height="63.70" fill="#747474" stroke="#222" stroke-width="0.9"/>
<rect x="334.10" y="357.50" width="9.90" height="43.70" fill="#0c0c0c" stroke="#222" stroke-width="0.9"/>
<rect x="344.00" y="370.50" width="9.90" height="30.70" fill="url(#h1)" stroke="#222" stroke-width="0.9"/>
<rect x="353.90" y="374.25" width="9.90" height="26.95" fill="url(#h2)" stroke="#222" stroke-width="0.9"/>
<line x1="309.35" y1="361.25" x2="309.35" y2="375.00" stroke="#333" stroke-width="0.9" />
<line x1="307.55" y1="361.25" x2="311.15" y2="361.25" stroke="#333" stroke-width="0.9" />
<line x1="307.55" y1="375.00" x2="311.15" y2="375.00" stroke="#333" stroke-width="0.9" />
<line x1="319.25" y1="342.00" x2="319.25" y2="362.50" stroke="#333" stroke-width="0.9" />
<line x1="317.45" y1="342.00" x2="321.05" y2="342.00" stroke="#333" stroke-width="0.9" />
<line x1="317.45" y1="362.50" x2="321.05" y2="362.50" stroke="#333" stroke-width="0.9" />
<line x1="329.15" y1="331.25" x2="329.15" y2="343.75" stroke="#333" stroke-width="0.9" />
<line x1="327.35" y1="331.25" x2="330.95" y2="331.25" stroke="#333" stroke-width="0.9" />
<line x1="327.35" y1="343.75" x2="330.95" y2="343.75" stroke="#333" stroke-width="0.9" />
<line x1="339.05" y1="350.50" x2="339.05" y2="363.75" stroke="#333" stroke-width="0.9" />
<line x1="337.25" y1="350.50" x2="340.85" y2="350.50" stroke="#333" stroke-width="0.9" />
<line x1="337.25" y1="363.75" x2="340.85" y2="363.75" stroke="#333" stroke-width="0.9" />
<line x1="348.95" y1="365.00" x2="348.95" y2="376.25" stroke="#333" stroke-width="0.9" />
<line x1="347.15" y1="365.00" x2="350.75" y2="365.00" stroke="#333" stroke-width="0.9" />
<line x1="347.15" y1="376.25" x2="350.75" y2="376.25" stroke="#333" stroke-width="0.9" />
<line x1="358.85" y1="367.00" x2="358.85" y2="382.00" stroke="#333" stroke-width="0.9" />
<line x1="357.05" y1="367.00" x2="360.65" y2="367.00" stroke="#333" stroke-width="0.9" />
<line x1="357.05" y1="382.00" x2="360.65" y2="382.00" stroke="#333" stroke-width="0.9" />
<line x1="334.10" y1="401.20" x2="334.10" y2="404.20" stroke="#333" stroke-width="1" />
<rect x="377.80" y="338.00" width="9.90" height="63.20" fill="#ffffff" stroke="#222" stroke-width="0.9"/>
<rect x="387.70" y="320.10" width="9.90" height="81.10" fill="#b3b3b3" stroke="#222" stroke-width="0.9"/>
<rect x="397.60" y="288.10" width="9.90" height="113.10" fill="#747474" stroke="#222" stroke-width="0.9"/>
<rect x="407.50" y="324.20" width="9.90" height="77.00" fill="#0c0c0c" stroke="#222" stroke-width="0.9"/>
<rect x="417.40" y="341.60" width="9.90" height="59.60" fill="url(#h1)" stroke="#222" stroke-width="0.9"/>
<rect x="427.30" y="347.60" width="9.90" height="53.60" fill="url(#h2)" stroke="#222" stroke-width="0.9"/>
<line x1="382.75" y1="332.70" x2="382.75" y2="343.50" stroke="#333" stroke-width="0.9" />
<line x1="380.95" y1="332.70" x2="384.55" y2="332.70" stroke="#333" stroke-width="0.9" />
<line x1="380.95" y1="343.50" x2="384.55" y2="343.50" stroke="#333" stroke-width="0.9" />
<line x1="392.65" y1="303.00" x2="392.65" y2="337.00" stroke="#333" stroke-width="0.9" />
<line x1="390.85" y1="303.00" x2="394.45" y2="303.00" stroke="#333" stroke-width="0.9" />
<line x1="390.85" y1="337.00" x2="394.45" y2="337.00" stroke="#333" stroke-width="0.9" />
<line x1="402.55" y1="281.60" x2="402.55" y2="294.10" stroke="#333" stroke-width="0.9" />
<line x1="400.75" y1="281.60" x2="404.35" y2="281.60" stroke="#333" stroke-width="0.9" />
<line x1="400.75" y1="294.10" x2="404.35" y2="294.10" stroke="#333" stroke-width="0.9" />
<line x1="412.45" y1="315.30" x2="412.45" y2="333.10" stroke="#333" stroke-width="0.9" />
<line x1="410.65" y1="315.30" x2="414.25" y2="315.30" stroke="#333" stroke-width="0.9" />
<line x1="410.65" y1="333.10" x2="414.25" y2="333.10" stroke="#333" stroke-width="0.9" />
<line x1="422.35" y1="335.10" x2="422.35" y2="347.60" stroke="#333" stroke-width="0.9" />
<line x1="420.55" y1="335.10" x2="424.15" y2="335.10" stroke="#333" stroke-width="0.9" />
<line x1="420.55" y1="347.60" x2="424.15" y2="347.60" stroke="#333" stroke-width="0.9" />
<line x1="432.25" y1="344.70" x2="432.25" y2="350.20" stroke="#333" stroke-width="0.9" />
<line x1="430.45" y1="344.70" x2="434.05" y2="344.70" stroke="#333" stroke-width="0.9" />
<line x1="430.45" y1="350.20" x2="434.05" y2="350.20" stroke="#333" stroke-width="0.9" />
<line x1="407.50" y1="401.20" x2="407.50" y2="404.20" stroke="#333" stroke-width="1" />
<rect x="451.10" y="354.40" width="9.90" height="46.80" fill="#ffffff" stroke="#222" stroke-width="0.9"/>
<rect x="461.00" y="322.00" width="9.90" height="79.20" fill="#b3b3b3" stroke="#222" stroke-width="0.9"/>
<rect x="470.90" y="284.90" width="9.90" height="116.30" fill="#747474" stroke="#222" stroke-width="0.9"/>
<rect x="480.80" y="318.20" width="9.90" height="83.00" fill="#0c0c0c" stroke="#222" stroke-width="0.9"/>
<rect x="490.70" y="351.50" width="9.90" height="49.70" fill="url(#h1)" stroke="#222" stroke-width="0.9"/>
<rect x="500.60" y="356.70" width="9.90" height="44.50" fill="url(#h2)" stroke="#222" stroke-width="0.9"/>
<line x1="456.05" y1="342.60" x2="456.05" y2="366.40" stroke="#333" stroke-width="0.9" />
<line x1="454.25" y1="342.60" x2="457.85" y2="342.60" stroke="#333" stroke-width="0.9" />
<line x1="454.25" y1="366.40" x2="457.85" y2="366.40" stroke="#333" stroke-width="0.9" />
<line x1="465.95" y1="299.70" x2="465.95" y2="344.10" stroke="#333" stroke-width="0.9" />
<line x1="464.15" y1="299.70" x2="467.75" y2="299.70" stroke="#333" stroke-width="0.9" />
<line x1="464.15" y1="344.10" x2="467.75" y2="344.10" stroke="#333" stroke-width="0.9" />
<line x1="475.85" y1="276.70" x2="475.85" y2="292.80" stroke="#333" stroke-width="0.9" />
<line x1="474.05" y1="276.70" x2="477.65" y2="276.70" stroke="#333" stroke-width="0.9" />
<line x1="474.05" y1="292.80" x2="477.65" y2="292.80" stroke="#333" stroke-width="0.9" />
<line x1="485.75" y1="304.90" x2="485.75" y2="331.80" stroke="#333" stroke-width="0.9" />
<line x1="483.95" y1="304.90" x2="487.55" y2="304.90" stroke="#333" stroke-width="0.9" />
<line x1="483.95" y1="331.80" x2="487.55" y2="331.80" stroke="#333" stroke-width="0.9" />
<line x1="495.65" y1="344.60" x2="495.65" y2="357.40" stroke="#333" stroke-width="0.9" />
<line x1="493.85" y1="344.60" x2="497.45" y2="344.60" stroke="#333" stroke-width="0.9" />
<line x1="493.85" y1="357.40" x2="497.45" y2="357.40" stroke="#333" stroke-width="0.9" />
<line x1="505.55" y1="348.50" x2="505.55" y2="364.60" stroke="#333" stroke-width="0.9" />
<line x1="503.75" y1="348.50" x2="507.35" y2="348.50" stroke="#333" stroke-width="0.9" />
<line x1="503.75" y1="364.60" x2="507.35" y2="364.60" stroke="#333" stroke-width="0.9" />
<line x1="480.80" y1="401.20" x2="480.80" y2="404.20" stroke="#333" stroke-width="1" />
<text x="334.10" y="416.76" font-size="11" text-anchor="middle" fill="#111" >2N Mks</text>
<text x="407.50" y="416.76" font-size="11" text-anchor="middle" fill="#111" >4N Mks</text>
<text x="480.80" y="416.76" font-size="11" text-anchor="middle" fill="#111" >&gt;=8N Mks</text>
<path d="M328.90,320.60 L330.10,320.60 L329.80,328.00 L329.20,328.00 Z" fill="#444"/>
<line x1="327.50" y1="322.80" x2="331.50" y2="322.80" stroke="#444" stroke-width="1.1" />
<path d="M403.00,272.10 L404.20,272.10 L403.90,279.50 L403.30,279.50 Z" fill="#444"/>
<line x1="401.60" y1="274.30" x2="405.60" y2="274.30" stroke="#444" stroke-width="1.1" />
<path d="M479.90,271.30 L481.10,271.30 L480.80,278.70 L480.20,278.70 Z" fill="#444"/>
<line x1="478.50" y1="273.50" x2="482.50" y2="273.50" stroke="#444" stroke-width="1.1" />
<path d="M484.90,293.60 L486.10,293.60 L485.80,301.00 L485.20,301.00 Z" fill="#444"/>
<line x1="483.50" y1="295.80" x2="487.50" y2="295.80" stroke="#444" stroke-width="1.1" />
<text x="303.00" y="246.66" font-size="8.5" text-anchor="start" fill="#111" >Adherent Mks - shear stress (dyn/cm<tspan font-size="5.5" dy="-3.5">2</tspan><tspan dy="3.5">)</tspan></text>
<text x="303.00" y="270.06" font-size="8.5" text-anchor="start" fill="#111" >Non-adherent Mks - shear stress (dyn/cm<tspan font-size="5.5" dy="-3.5">2</tspan><tspan dy="3.5">)</tspan></text>
<rect x="302.50" y="250.80" width="19.30" height="6.70" fill="#ffffff" stroke="#333" stroke-width="0.9"/>
<text x="324.50" y="257.16" font-size="8.5" text-anchor="start" fill="#111" >0</text>
<rect x="331.80" y="250.80" width="18.70" height="6.70" fill="#b3b3b3" stroke="#333" stroke-width="0.9"/>
<text x="353.20" y="257.16" font-size="8.5" text-anchor="start" fill="#111" >1.5</text>
<rect x="367.50" y="250.80" width="19.20" height="6.70" fill="#747474" stroke="#333" stroke-width="0.9"/>
<text x="389.40" y="257.16" font-size="8.5" text-anchor="start" fill="#111" >2.5</text>
<rect x="403.70" y="250.80" width="18.60" height="6.70" fill="#0c0c0c" stroke="#333" stroke-width="0.9"/>
<text x="425.00" y="257.16" font-size="8.5" text-anchor="start" fill="#111" >4.0</text>
<rect x="302.50" y="275.00" width="19.30" height="6.80" fill="url(#h1)" stroke="#333" stroke-width="0.9"/>
<text x="324.50" y="281.46" font-size="8.5" text-anchor="start" fill="#111" >0</text>
<rect x="331.80" y="275.00" width="18.70" height="6.80" fill="url(#h2)" stroke="#333" stroke-width="0.9"/>
<text x="353.20" y="281.46" font-size="8.5" text-anchor="start" fill="#111" >2.5</text>
<text transform="translate(273.20,356.10) rotate(-90)" x="0" y="0" font-size="12" text-anchor="start" fill="#111">BrdU<tspan font-size="7" dy="-5.6">+</tspan><tspan font-size="11" dy="4.9"> (%)</tspan></text>
<text x="278.50" y="440.48" font-size="17.3" text-anchor="start" fill="#111" style="stroke-width:0.7px">F</text>
<line x1="298.40" y1="451.30" x2="298.40" y2="613.50" stroke="#333" stroke-width="1" />
<line x1="294.40" y1="613.00" x2="298.40" y2="613.00" stroke="#333" stroke-width="1" />
<text x="292.50" y="616.96" font-size="11" text-anchor="end" fill="#111" >0</text>
<line x1="296.20" y1="601.45" x2="298.40" y2="601.45" stroke="#333" stroke-width="1" />
<line x1="294.40" y1="589.90" x2="298.40" y2="589.90" stroke="#333" stroke-width="1" />
<text x="292.50" y="593.86" font-size="11" text-anchor="end" fill="#111" >10</text>
<line x1="296.20" y1="578.35" x2="298.40" y2="578.35" stroke="#333" stroke-width="1" />
<line x1="294.40" y1="566.80" x2="298.40" y2="566.80" stroke="#333" stroke-width="1" />
<text x="292.50" y="570.76" font-size="11" text-anchor="end" fill="#111" >20</text>
<line x1="296.20" y1="555.25" x2="298.40" y2="555.25" stroke="#333" stroke-width="1" />
<line x1="294.40" y1="543.70" x2="298.40" y2="543.70" stroke="#333" stroke-width="1" />
<text x="292.50" y="547.66" font-size="11" text-anchor="end" fill="#111" >30</text>
<line x1="296.20" y1="532.15" x2="298.40" y2="532.15" stroke="#333" stroke-width="1" />
<line x1="294.40" y1="520.60" x2="298.40" y2="520.60" stroke="#333" stroke-width="1" />
<text x="292.50" y="524.56" font-size="11" text-anchor="end" fill="#111" >40</text>
<line x1="296.20" y1="509.05" x2="298.40" y2="509.05" stroke="#333" stroke-width="1" />
<line x1="294.40" y1="497.50" x2="298.40" y2="497.50" stroke="#333" stroke-width="1" />
<text x="292.50" y="501.46" font-size="11" text-anchor="end" fill="#111" >50</text>
<line x1="296.20" y1="485.95" x2="298.40" y2="485.95" stroke="#333" stroke-width="1" />
<line x1="294.40" y1="474.40" x2="298.40" y2="474.40" stroke="#333" stroke-width="1" />
<text x="292.50" y="478.36" font-size="11" text-anchor="end" fill="#111" >60</text>
<line x1="296.20" y1="462.85" x2="298.40" y2="462.85" stroke="#333" stroke-width="1" />
<line x1="294.40" y1="451.30" x2="298.40" y2="451.30" stroke="#333" stroke-width="1" />
<text x="292.50" y="455.26" font-size="11" text-anchor="end" fill="#111" >70</text>
<line x1="298.40" y1="613.00" x2="518.30" y2="613.00" stroke="#333" stroke-width="1" />
<rect x="301.95" y="584.50" width="4.95" height="28.50" fill="url(#h1)" stroke="#222" stroke-width="0.8"/>
<rect x="306.90" y="547.70" width="4.95" height="65.30" fill="#b3b3b3" stroke="#222" stroke-width="0.8"/>
<rect x="311.85" y="603.70" width="4.95" height="9.30" fill="#747474" stroke="#222" stroke-width="0.8"/>
<rect x="316.80" y="603.20" width="4.95" height="9.80" fill="#222222" stroke="#222" stroke-width="0.8"/>
<rect x="321.75" y="609.50" width="4.95" height="3.50" fill="#0c0c0c" stroke="#222" stroke-width="0.8"/>
<rect x="326.70" y="608.30" width="4.95" height="4.70" fill="#ffffff" stroke="#222" stroke-width="0.8"/>
<rect x="302.35" y="584.50" width="4.15" height="7.60" fill="#fff" fill-opacity="0.6" stroke="#555" stroke-width="0.6"/>
<rect x="307.30" y="547.70" width="4.15" height="5.10" fill="#8e8e8e" stroke="#555" stroke-width="0.6"/>
<line x1="304.43" y1="577.10" x2="304.43" y2="592.10" stroke="#333" stroke-width="0.8" />
<line x1="303.12" y1="577.10" x2="305.73" y2="577.10" stroke="#333" stroke-width="0.8" />
<line x1="303.12" y1="592.10" x2="305.73" y2="592.10" stroke="#333" stroke-width="0.8" />
<line x1="309.38" y1="542.40" x2="309.38" y2="552.80" stroke="#333" stroke-width="0.8" />
<line x1="308.07" y1="542.40" x2="310.68" y2="542.40" stroke="#333" stroke-width="0.8" />
<line x1="308.07" y1="552.80" x2="310.68" y2="552.80" stroke="#333" stroke-width="0.8" />
<line x1="314.32" y1="602.00" x2="314.32" y2="606.00" stroke="#333" stroke-width="0.8" />
<line x1="313.02" y1="602.00" x2="315.62" y2="602.00" stroke="#333" stroke-width="0.8" />
<line x1="313.02" y1="606.00" x2="315.62" y2="606.00" stroke="#333" stroke-width="0.8" />
<line x1="319.27" y1="600.20" x2="319.27" y2="606.00" stroke="#333" stroke-width="0.8" />
<line x1="317.97" y1="600.20" x2="320.57" y2="600.20" stroke="#333" stroke-width="0.8" />
<line x1="317.97" y1="606.00" x2="320.57" y2="606.00" stroke="#333" stroke-width="0.8" />
<line x1="324.22" y1="607.50" x2="324.22" y2="611.00" stroke="#333" stroke-width="0.8" />
<line x1="322.92" y1="607.50" x2="325.52" y2="607.50" stroke="#333" stroke-width="0.8" />
<line x1="322.92" y1="611.00" x2="325.52" y2="611.00" stroke="#333" stroke-width="0.8" />
<line x1="329.18" y1="606.50" x2="329.18" y2="610.00" stroke="#333" stroke-width="0.8" />
<line x1="327.88" y1="606.50" x2="330.48" y2="606.50" stroke="#333" stroke-width="0.8" />
<line x1="327.88" y1="610.00" x2="330.48" y2="610.00" stroke="#333" stroke-width="0.8" />
<line x1="316.80" y1="613.00" x2="316.80" y2="616.00" stroke="#333" stroke-width="1" />
<rect x="338.75" y="560.20" width="4.95" height="52.80" fill="url(#h1)" stroke="#222" stroke-width="0.8"/>
<rect x="343.70" y="517.70" width="4.95" height="95.30" fill="#b3b3b3" stroke="#222" stroke-width="0.8"/>
<rect x="348.65" y="601.80" width="4.95" height="11.20" fill="#747474" stroke="#222" stroke-width="0.8"/>
<rect x="353.60" y="596.30" width="4.95" height="16.70" fill="#222222" stroke="#222" stroke-width="0.8"/>
<rect x="358.55" y="609.90" width="4.95" height="3.10" fill="#0c0c0c" stroke="#222" stroke-width="0.8"/>
<rect x="363.50" y="607.80" width="4.95" height="5.20" fill="#ffffff" stroke="#222" stroke-width="0.8"/>
<rect x="339.15" y="560.20" width="4.15" height="8.30" fill="#fff" fill-opacity="0.6" stroke="#555" stroke-width="0.6"/>
<rect x="344.10" y="517.70" width="4.15" height="12.40" fill="#8e8e8e" stroke="#555" stroke-width="0.6"/>
<line x1="341.23" y1="552.30" x2="341.23" y2="568.50" stroke="#333" stroke-width="0.8" />
<line x1="339.93" y1="552.30" x2="342.53" y2="552.30" stroke="#333" stroke-width="0.8" />
<line x1="339.93" y1="568.50" x2="342.53" y2="568.50" stroke="#333" stroke-width="0.8" />
<line x1="346.18" y1="505.40" x2="346.18" y2="530.10" stroke="#333" stroke-width="0.8" />
<line x1="344.88" y1="505.40" x2="347.48" y2="505.40" stroke="#333" stroke-width="0.8" />
<line x1="344.88" y1="530.10" x2="347.48" y2="530.10" stroke="#333" stroke-width="0.8" />
<line x1="351.12" y1="599.50" x2="351.12" y2="604.00" stroke="#333" stroke-width="0.8" />
<line x1="349.82" y1="599.50" x2="352.43" y2="599.50" stroke="#333" stroke-width="0.8" />
<line x1="349.82" y1="604.00" x2="352.43" y2="604.00" stroke="#333" stroke-width="0.8" />
<line x1="356.07" y1="590.30" x2="356.07" y2="602.00" stroke="#333" stroke-width="0.8" />
<line x1="354.77" y1="590.30" x2="357.38" y2="590.30" stroke="#333" stroke-width="0.8" />
<line x1="354.77" y1="602.00" x2="357.38" y2="602.00" stroke="#333" stroke-width="0.8" />
<line x1="361.02" y1="608.00" x2="361.02" y2="611.50" stroke="#333" stroke-width="0.8" />
<line x1="359.72" y1="608.00" x2="362.32" y2="608.00" stroke="#333" stroke-width="0.8" />
<line x1="359.72" y1="611.50" x2="362.32" y2="611.50" stroke="#333" stroke-width="0.8" />
<line x1="365.98" y1="606.00" x2="365.98" y2="609.60" stroke="#333" stroke-width="0.8" />
<line x1="364.68" y1="606.00" x2="367.28" y2="606.00" stroke="#333" stroke-width="0.8" />
<line x1="364.68" y1="609.60" x2="367.28" y2="609.60" stroke="#333" stroke-width="0.8" />
<line x1="353.60" y1="613.00" x2="353.60" y2="616.00" stroke="#333" stroke-width="1" />
<rect x="375.35" y="566.20" width="4.95" height="46.80" fill="url(#h1)" stroke="#222" stroke-width="0.8"/>
<rect x="380.30" y="505.40" width="4.95" height="107.60" fill="#b3b3b3" stroke="#222" stroke-width="0.8"/>
<rect x="385.25" y="597.90" width="4.95" height="15.10" fill="#747474" stroke="#222" stroke-width="0.8"/>
<rect x="390.20" y="587.00" width="4.95" height="26.00" fill="#222222" stroke="#222" stroke-width="0.8"/>
<rect x="395.15" y="608.30" width="4.95" height="4.70" fill="#0c0c0c" stroke="#222" stroke-width="0.8"/>
<rect x="400.10" y="605.50" width="4.95" height="7.50" fill="#ffffff" stroke="#222" stroke-width="0.8"/>
<rect x="375.75" y="566.20" width="4.15" height="12.50" fill="#fff" fill-opacity="0.6" stroke="#555" stroke-width="0.6"/>
<rect x="380.70" y="505.40" width="4.15" height="7.60" fill="#8e8e8e" stroke="#555" stroke-width="0.6"/>
<line x1="377.82" y1="553.30" x2="377.82" y2="578.70" stroke="#333" stroke-width="0.8" />
<line x1="376.52" y1="553.30" x2="379.12" y2="553.30" stroke="#333" stroke-width="0.8" />
<line x1="376.52" y1="578.70" x2="379.12" y2="578.70" stroke="#333" stroke-width="0.8" />
<line x1="382.77" y1="497.80" x2="382.77" y2="513.00" stroke="#333" stroke-width="0.8" />
<line x1="381.47" y1="497.80" x2="384.07" y2="497.80" stroke="#333" stroke-width="0.8" />
<line x1="381.47" y1="513.00" x2="384.07" y2="513.00" stroke="#333" stroke-width="0.8" />
<line x1="387.72" y1="593.30" x2="387.72" y2="602.50" stroke="#333" stroke-width="0.8" />
<line x1="386.42" y1="593.30" x2="389.02" y2="593.30" stroke="#333" stroke-width="0.8" />
<line x1="386.42" y1="602.50" x2="389.02" y2="602.50" stroke="#333" stroke-width="0.8" />
<line x1="392.67" y1="580.50" x2="392.67" y2="593.50" stroke="#333" stroke-width="0.8" />
<line x1="391.37" y1="580.50" x2="393.97" y2="580.50" stroke="#333" stroke-width="0.8" />
<line x1="391.37" y1="593.50" x2="393.97" y2="593.50" stroke="#333" stroke-width="0.8" />
<line x1="397.62" y1="606.00" x2="397.62" y2="610.50" stroke="#333" stroke-width="0.8" />
<line x1="396.32" y1="606.00" x2="398.92" y2="606.00" stroke="#333" stroke-width="0.8" />
<line x1="396.32" y1="610.50" x2="398.92" y2="610.50" stroke="#333" stroke-width="0.8" />
<line x1="402.57" y1="603.00" x2="402.57" y2="608.00" stroke="#333" stroke-width="0.8" />
<line x1="401.27" y1="603.00" x2="403.88" y2="603.00" stroke="#333" stroke-width="0.8" />
<line x1="401.27" y1="608.00" x2="403.88" y2="608.00" stroke="#333" stroke-width="0.8" />
<line x1="390.20" y1="613.00" x2="390.20" y2="616.00" stroke="#333" stroke-width="1" />
<rect x="412.35" y="588.20" width="4.95" height="24.80" fill="url(#h1)" stroke="#222" stroke-width="0.8"/>
<rect x="417.30" y="588.70" width="4.95" height="24.30" fill="#b3b3b3" stroke="#222" stroke-width="0.8"/>
<rect x="422.25" y="606.30" width="4.95" height="6.70" fill="#747474" stroke="#222" stroke-width="0.8"/>
<rect x="427.20" y="587.50" width="4.95" height="25.50" fill="#222222" stroke="#222" stroke-width="0.8"/>
<rect x="432.15" y="609.80" width="4.95" height="3.20" fill="#0c0c0c" stroke="#222" stroke-width="0.8"/>
<rect x="437.10" y="609.80" width="4.95" height="3.20" fill="#ffffff" stroke="#222" stroke-width="0.8"/>
<rect x="412.75" y="588.20" width="4.15" height="6.80" fill="#fff" fill-opacity="0.6" stroke="#555" stroke-width="0.6"/>
<rect x="417.70" y="588.70" width="4.15" height="7.30" fill="#8e8e8e" stroke="#555" stroke-width="0.6"/>
<line x1="414.82" y1="581.30" x2="414.82" y2="595.00" stroke="#333" stroke-width="0.8" />
<line x1="413.52" y1="581.30" x2="416.12" y2="581.30" stroke="#333" stroke-width="0.8" />
<line x1="413.52" y1="595.00" x2="416.12" y2="595.00" stroke="#333" stroke-width="0.8" />
<line x1="419.77" y1="581.30" x2="419.77" y2="596.00" stroke="#333" stroke-width="0.8" />
<line x1="418.47" y1="581.30" x2="421.07" y2="581.30" stroke="#333" stroke-width="0.8" />
<line x1="418.47" y1="596.00" x2="421.07" y2="596.00" stroke="#333" stroke-width="0.8" />
<line x1="424.72" y1="604.00" x2="424.72" y2="608.50" stroke="#333" stroke-width="0.8" />
<line x1="423.42" y1="604.00" x2="426.02" y2="604.00" stroke="#333" stroke-width="0.8" />
<line x1="423.42" y1="608.50" x2="426.02" y2="608.50" stroke="#333" stroke-width="0.8" />
<line x1="429.67" y1="588.00" x2="429.67" y2="591.00" stroke="#333" stroke-width="0.8" />
<line x1="428.37" y1="588.00" x2="430.97" y2="588.00" stroke="#333" stroke-width="0.8" />
<line x1="428.37" y1="591.00" x2="430.97" y2="591.00" stroke="#333" stroke-width="0.8" />
<line x1="434.62" y1="608.00" x2="434.62" y2="611.50" stroke="#333" stroke-width="0.8" />
<line x1="433.32" y1="608.00" x2="435.92" y2="608.00" stroke="#333" stroke-width="0.8" />
<line x1="433.32" y1="611.50" x2="435.92" y2="611.50" stroke="#333" stroke-width="0.8" />
<line x1="439.57" y1="608.00" x2="439.57" y2="611.50" stroke="#333" stroke-width="0.8" />
<line x1="438.27" y1="608.00" x2="440.88" y2="608.00" stroke="#333" stroke-width="0.8" />
<line x1="438.27" y1="611.50" x2="440.88" y2="611.50" stroke="#333" stroke-width="0.8" />
<line x1="427.20" y1="613.00" x2="427.20" y2="616.00" stroke="#333" stroke-width="1" />
<rect x="448.55" y="562.80" width="4.95" height="50.20" fill="url(#h1)" stroke="#222" stroke-width="0.8"/>
<rect x="453.50" y="567.20" width="4.95" height="45.80" fill="#b3b3b3" stroke="#222" stroke-width="0.8"/>
<rect x="458.45" y="607.70" width="4.95" height="5.30" fill="#747474" stroke="#222" stroke-width="0.8"/>
<rect x="463.40" y="604.60" width="4.95" height="8.40" fill="#222222" stroke="#222" stroke-width="0.8"/>
<rect x="468.35" y="609.20" width="4.95" height="3.80" fill="#0c0c0c" stroke="#222" stroke-width="0.8"/>
<rect x="473.30" y="608.90" width="4.95" height="4.10" fill="#ffffff" stroke="#222" stroke-width="0.8"/>
<rect x="448.95" y="562.80" width="4.15" height="11.20" fill="#fff" fill-opacity="0.6" stroke="#555" stroke-width="0.6"/>
<rect x="453.90" y="567.20" width="4.15" height="6.80" fill="#8e8e8e" stroke="#555" stroke-width="0.6"/>
<line x1="451.02" y1="551.50" x2="451.02" y2="574.00" stroke="#333" stroke-width="0.8" />
<line x1="449.72" y1="551.50" x2="452.32" y2="551.50" stroke="#333" stroke-width="0.8" />
<line x1="449.72" y1="574.00" x2="452.32" y2="574.00" stroke="#333" stroke-width="0.8" />
<line x1="455.97" y1="560.30" x2="455.97" y2="574.00" stroke="#333" stroke-width="0.8" />
<line x1="454.67" y1="560.30" x2="457.27" y2="560.30" stroke="#333" stroke-width="0.8" />
<line x1="454.67" y1="574.00" x2="457.27" y2="574.00" stroke="#333" stroke-width="0.8" />
<line x1="460.92" y1="606.00" x2="460.92" y2="609.40" stroke="#333" stroke-width="0.8" />
<line x1="459.62" y1="606.00" x2="462.22" y2="606.00" stroke="#333" stroke-width="0.8" />
<line x1="459.62" y1="609.40" x2="462.22" y2="609.40" stroke="#333" stroke-width="0.8" />
<line x1="465.87" y1="602.30" x2="465.87" y2="607.00" stroke="#333" stroke-width="0.8" />
<line x1="464.57" y1="602.30" x2="467.17" y2="602.30" stroke="#333" stroke-width="0.8" />
<line x1="464.57" y1="607.00" x2="467.17" y2="607.00" stroke="#333" stroke-width="0.8" />
<line x1="470.82" y1="606.50" x2="470.82" y2="611.90" stroke="#333" stroke-width="0.8" />
<line x1="469.52" y1="606.50" x2="472.12" y2="606.50" stroke="#333" stroke-width="0.8" />
<line x1="469.52" y1="611.90" x2="472.12" y2="611.90" stroke="#333" stroke-width="0.8" />
<line x1="475.77" y1="607.50" x2="475.77" y2="610.30" stroke="#333" stroke-width="0.8" />
<line x1="474.47" y1="607.50" x2="477.07" y2="607.50" stroke="#333" stroke-width="0.8" />
<line x1="474.47" y1="610.30" x2="477.07" y2="610.30" stroke="#333" stroke-width="0.8" />
<line x1="463.40" y1="613.00" x2="463.40" y2="616.00" stroke="#333" stroke-width="1" />
<rect x="485.45" y="574.20" width="4.95" height="38.80" fill="url(#h1)" stroke="#222" stroke-width="0.8"/>
<rect x="490.40" y="576.90" width="4.95" height="36.10" fill="#b3b3b3" stroke="#222" stroke-width="0.8"/>
<rect x="495.35" y="588.20" width="4.95" height="24.80" fill="#747474" stroke="#222" stroke-width="0.8"/>
<rect x="500.30" y="597.70" width="4.95" height="15.30" fill="#222222" stroke="#222" stroke-width="0.8"/>
<rect x="505.25" y="607.70" width="4.95" height="5.30" fill="#0c0c0c" stroke="#222" stroke-width="0.8"/>
<rect x="510.20" y="604.60" width="4.95" height="8.40" fill="#ffffff" stroke="#222" stroke-width="0.8"/>
<rect x="485.85" y="574.20" width="4.15" height="11.80" fill="#fff" fill-opacity="0.6" stroke="#555" stroke-width="0.6"/>
<rect x="490.80" y="576.90" width="4.15" height="11.50" fill="#8e8e8e" stroke="#555" stroke-width="0.6"/>
<line x1="487.93" y1="562.30" x2="487.93" y2="586.00" stroke="#333" stroke-width="0.8" />
<line x1="486.62" y1="562.30" x2="489.23" y2="562.30" stroke="#333" stroke-width="0.8" />
<line x1="486.62" y1="586.00" x2="489.23" y2="586.00" stroke="#333" stroke-width="0.8" />
<line x1="492.88" y1="565.40" x2="492.88" y2="588.40" stroke="#333" stroke-width="0.8" />
<line x1="491.57" y1="565.40" x2="494.18" y2="565.40" stroke="#333" stroke-width="0.8" />
<line x1="491.57" y1="588.40" x2="494.18" y2="588.40" stroke="#333" stroke-width="0.8" />
<line x1="497.82" y1="579.20" x2="497.82" y2="597.20" stroke="#333" stroke-width="0.8" />
<line x1="496.52" y1="579.20" x2="499.12" y2="579.20" stroke="#333" stroke-width="0.8" />
<line x1="496.52" y1="597.20" x2="499.12" y2="597.20" stroke="#333" stroke-width="0.8" />
<line x1="502.77" y1="593.10" x2="502.77" y2="602.30" stroke="#333" stroke-width="0.8" />
<line x1="501.47" y1="593.10" x2="504.07" y2="593.10" stroke="#333" stroke-width="0.8" />
<line x1="501.47" y1="602.30" x2="504.07" y2="602.30" stroke="#333" stroke-width="0.8" />
<line x1="507.72" y1="606.00" x2="507.72" y2="609.40" stroke="#333" stroke-width="0.8" />
<line x1="506.42" y1="606.00" x2="509.02" y2="606.00" stroke="#333" stroke-width="0.8" />
<line x1="506.42" y1="609.40" x2="509.02" y2="609.40" stroke="#333" stroke-width="0.8" />
<line x1="512.67" y1="603.00" x2="512.67" y2="606.20" stroke="#333" stroke-width="0.8" />
<line x1="511.37" y1="603.00" x2="513.97" y2="603.00" stroke="#333" stroke-width="0.8" />
<line x1="511.37" y1="606.20" x2="513.97" y2="606.20" stroke="#333" stroke-width="0.8" />
<line x1="500.30" y1="613.00" x2="500.30" y2="616.00" stroke="#333" stroke-width="1" />
<rect x="422.40" y="591.30" width="4.40" height="15.00" fill="#fff" stroke="#666" stroke-width="0.6"/>
<text x="316.80" y="625.08" font-size="8.0" text-anchor="middle" fill="#111" >2N Mks</text>
<text x="353.60" y="625.08" font-size="8.0" text-anchor="middle" fill="#111" >4N Mks</text>
<text x="390.20" y="625.08" font-size="8.0" text-anchor="middle" fill="#111" >&gt;=8N Mks</text>
<text x="427.20" y="625.08" font-size="8.0" text-anchor="middle" fill="#111" >2N Mks</text>
<text x="463.40" y="625.08" font-size="8.0" text-anchor="middle" fill="#111" >4N Mks</text>
<text x="500.30" y="625.08" font-size="8.0" text-anchor="middle" fill="#111" >&gt;=8N Mks</text>
<path d="M308.60,531.50 L309.80,531.50 L309.50,538.90 L308.90,538.90 Z" fill="#444"/>
<line x1="307.20" y1="533.70" x2="311.20" y2="533.70" stroke="#444" stroke-width="1.1" />
<path d="M340.90,502.30 L342.10,502.30 L341.80,509.70 L341.20,509.70 Z" fill="#444"/>
<line x1="339.50" y1="504.50" x2="343.50" y2="504.50" stroke="#444" stroke-width="1.1" />
<path d="M376.40,501.90 L377.60,501.90 L377.30,509.30 L376.70,509.30 Z" fill="#444"/>
<line x1="375.00" y1="504.10" x2="379.00" y2="504.10" stroke="#444" stroke-width="1.1" />
<line x1="408.30" y1="452.40" x2="408.30" y2="461.50" stroke="#4a4a4a" stroke-width="1.15" stroke-dasharray="2.6,3.2"/>
<line x1="407.80" y1="500.80" x2="407.80" y2="613.00" stroke="#4a4a4a" stroke-width="1.15" stroke-dasharray="2.6,3.2"/>
<text x="352.50" y="460.63" font-size="11.2" text-anchor="middle" fill="#111" >Adherent Mks</text>
<text x="465.20" y="460.33" font-size="11.2" text-anchor="middle" fill="#111" >Non-Adherent Mks</text>
<rect x="346.60" y="466.00" width="14.40" height="6.00" fill="url(#h1)" stroke="#333" stroke-width="0.9"/>
<text x="364.00" y="472.35" font-size="9.3" text-anchor="start" fill="#111" >d8&#160;&#160;static</text>
<rect x="346.60" y="477.30" width="14.40" height="6.00" fill="#747474" stroke="#333" stroke-width="0.9"/>
<text x="364.00" y="483.65" font-size="9.3" text-anchor="start" fill="#111" >d10 static</text>
<rect x="346.60" y="488.80" width="14.40" height="6.00" fill="#0c0c0c" stroke="#333" stroke-width="0.9"/>
<text x="364.00" y="495.15" font-size="9.3" text-anchor="start" fill="#111" >d12 static</text>
<rect x="412.80" y="466.00" width="15.70" height="6.00" fill="#b3b3b3" stroke="#333" stroke-width="0.9"/>
<text x="430.60" y="472.35" font-size="9.3" text-anchor="start" fill="#111" >d8&#160;&#160;flow</text>
<rect x="412.80" y="477.30" width="15.70" height="6.00" fill="#222222" stroke="#333" stroke-width="0.9"/>
<text x="430.60" y="483.65" font-size="9.3" text-anchor="start" fill="#111" >d10 flow</text>
<rect x="412.80" y="488.80" width="15.70" height="6.00" fill="#ffffff" stroke="#333" stroke-width="0.9"/>
<text x="430.60" y="495.15" font-size="9.3" text-anchor="start" fill="#111" >d12 flow</text>
<text transform="translate(275.90,566.00) rotate(-90)" x="0" y="0" font-size="12" text-anchor="start" fill="#111">BrdU<tspan font-size="7" dy="-5.6">+</tspan><tspan font-size="11" dy="4.9"> (%)</tspan></text>
</svg>
</body></html>
